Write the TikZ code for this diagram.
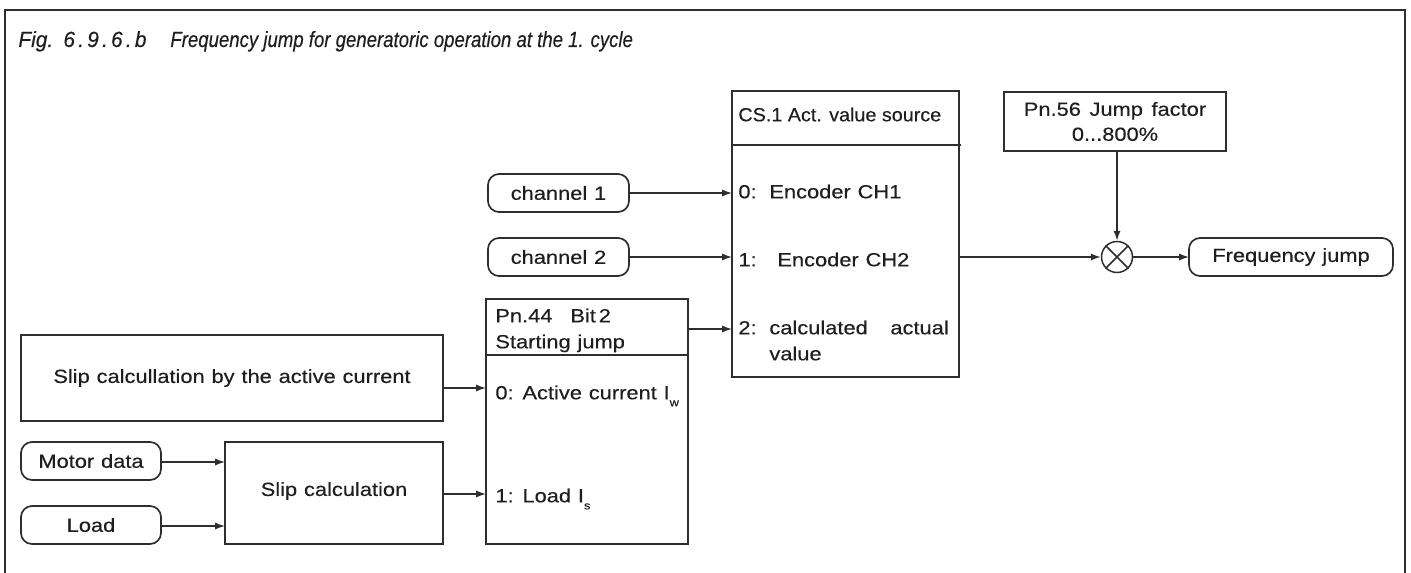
\documentclass[tikz,border=0pt]{standalone}
\usepackage{fontspec}
\setmainfont{Liberation Sans}
\newfontfamily\wf{Liberation Sans}[FakeStretch=1.15, FakeBold=0.3]
\newfontfamily\cf{Liberation Sans}[FakeStretch=1.04, FakeBold=0.3]
\newfontfamily\tf{Liberation Sans}[FakeStretch=0.95, FakeBold=0.3]
\newfontfamily\tfb{Liberation Sans}[FakeStretch=0.845, FakeBold=0.3]
\usetikzlibrary{arrows.meta,calc}
\definecolor{ln}{HTML}{2E2E2E}
\definecolor{txt}{HTML}{1E1E1E}
\newcommand{\subs}[1]{\raisebox{-0.7ex}{\fontsize{5.5}{6}\selectfont #1}}
\newcommand{\widesp}{\spaceskip 0.36em\relax}
\newcommand{\normalsp}{\spaceskip 0pt\relax}
\newcommand{\tk}{\kern1.6pt}
\begin{document}
\begin{tikzpicture}[x=0.5pt,y=-0.5pt,
  every node/.style={font={\wf\fontsize{9.5}{12.5}\selectfont\widesp}, text=txt},
  normsp/.style={font={\cf\fontsize{9.5}{12.5}\selectfont\normalsp}},
  ttl/.style={anchor=base west, inner sep=0pt},
  box/.style={draw=ln, line width=0.85pt, inner sep=0pt, outer sep=0pt},
  rbox/.style={box, rounded corners=5.5pt},
  lbl/.style={anchor=mid west, inner sep=0pt},
  arr/.style={draw=ln, line width=0.7pt, -{Latex[length=5pt,width=3.6pt]}}]
\useasboundingbox (0,0) rectangle (1411,572);
% frame
\draw[ln, line width=1.4pt] (5,574) -- (5,10) -- (1405,10) -- (1405,574);
\node[ttl, font={\tf\itshape\fontsize{11}{14}\selectfont}] (titleA) at (18,47) {Fig.};
\node[ttl, font={\tf\itshape\fontsize{11}{14}\selectfont}] (titleB) at (63,47) {6\tk.\tk9\tk.\tk6\tk.\tk b};
\node[ttl, font={\tfb\itshape\fontsize{11}{14}\selectfont\normalsp}] (titleC) at (170,47)
  {Frequency jump for generatoric operation at the 1. cycle};
% CS.1 box
\node[box, minimum width=113.5pt, minimum height=143pt] (cs) at (845.5,234) {};
\coordinate (csdl) at (732,145);
\coordinate (csdr) at (961,145);
\draw[ln, line width=0.85pt] (csdl) -- (csdr);
\node[lbl, normsp] (cst) at (738,116) {CS.1 Act. value source};
\node[lbl] (cs0) at (738,193) {0:};
\node[lbl] (cs0t) at (769,193) {Encoder CH1};
\node[lbl] (cs1) at (738,261) {1:};
\node[lbl] (cs1t) at (777,261) {Encoder CH2};
\node[lbl] (cs2) at (738,329) {2:};
\node[lbl] (cs2t) at (769,329) {calculated};
\node[lbl] (cs2u) at (890,329) {actual};
\node[lbl] (cs2v) at (769,355) {value};
% Pn.56
\node[box, minimum width=111pt, minimum height=29.5pt, align=center] (pn56) at (1115,121.5)
  {Pn.56\hspace{0.45em}Jump\hspace{0.45em}factor\\0...800\%};
\node[draw=ln, circle, line width=0.75pt, minimum size=15.5pt, inner sep=0pt] (mul) at (1117,257) {};
\draw[ln, line width=0.75pt] (mul.north west) -- (mul.south east) (mul.north east) -- (mul.south west);
\node[rbox, minimum width=102pt, minimum height=19pt] (fj) at (1291,257) {Frequency jump};
% channels
\node[rbox, minimum width=70.5pt, minimum height=19pt] (ch1) at (558.5,193) {channel 1};
\node[rbox, minimum width=70.5pt, minimum height=19pt] (ch2) at (558.5,257) {channel 2};
% Pn.44
\node[box, minimum width=101pt, minimum height=122.5pt] (pn44) at (587,421.5) {};
\coordinate (pndl) at (486,355);
\coordinate (pndr) at (688,355);
\draw[ln, line width=0.85pt] (pndl) -- (pndr);
\node[lbl] (pnt1) at (495,317) {Pn.44};
\node[lbl] (pnt2) at (570,317) {Bit\hspace{0.15em}2};
\node[lbl] (pnt3) at (495,343) {Starting jump};
\node[lbl] (pn0) at (495,394) {0: Active current I\subs{w}};
\node[lbl] (pn1) at (495,497) {1: Load I\subs{s}};
% left side
\node[box, minimum width=211pt, minimum height=43pt] (sa) at (232,378) {};
\node (sat) at (232,378) {Slip calcullation by the active current};
\node[rbox, minimum width=70pt, minimum height=19pt] (md) at (91,461) {Motor data};
\node[rbox, minimum width=70pt, minimum height=19pt] (ld) at (91,525) {Load};
\node[box, minimum width=109pt, minimum height=51pt] (sc) at (334,493) {};
\node (sct) at (334,491) {Slip calculation};
% connectors
\draw[arr] (ch1.east) -- (ch1.east -| cs.west);
\draw[arr] (ch2.east) -- (ch2.east -| cs.west);
\draw[arr] (pn44.east |- 0,329) -- (cs.west |- 0,329);
\draw[arr] (cs.east |- mul.west) -- (mul.west);
\draw[arr] (pn56.south -| mul.north) -- (mul.north);
\draw[arr] (mul.east) -- (fj.west);
\draw[arr] (sa.east |- 0,388) -- (pn44.west |- 0,388);
\draw[arr] (md.east |- 0,462) -- (sc.west |- 0,462);
\draw[arr] (ld.east |- 0,526) -- (sc.west |- 0,526);
\draw[arr] (sc.east |- 0,494) -- (pn44.west |- 0,494);
\end{tikzpicture}
\end{document}
